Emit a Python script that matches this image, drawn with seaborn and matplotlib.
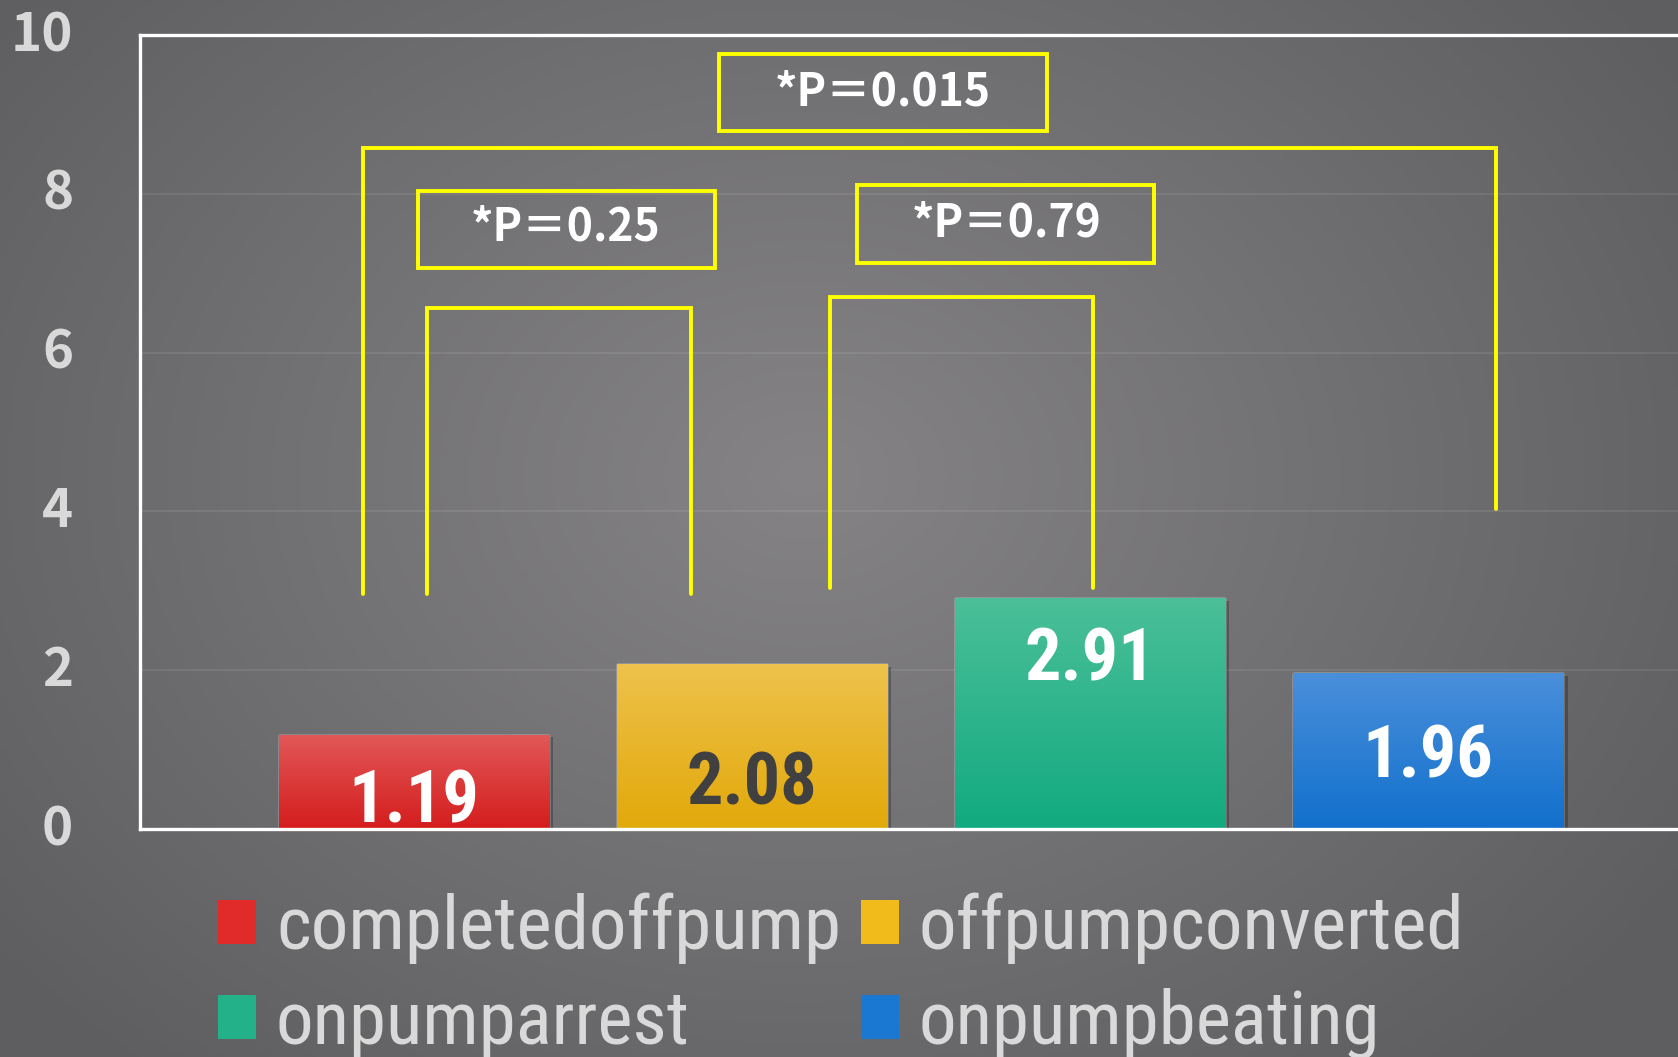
import numpy as np
import pandas as pd
import matplotlib
matplotlib.use("Agg")
import matplotlib.pyplot as plt
import matplotlib.patheffects as pe
import seaborn as sns
from matplotlib.patches import Rectangle
from matplotlib import font_manager as fm
from matplotlib.colors import to_rgb
from matplotlib.transforms import ScaledTranslation

# ---------------- data ----------------
categories = ["completedoffpump", "offpumpconverted", "onpumparrest", "onpumpbeating"]
values = [1.19, 2.08, 2.91, 1.96]
value_labels = ["1.19", "2.08", "2.91", "1.96"]
yticks = [0, 2, 4, 6, 8, 10]
p_labels = ["*P＝0.25", "*P＝0.79", "*P＝0.015"]

# ---------------- styling ----------------
mid_colors = ["#e12a2a", "#f2bb1c", "#22b189", "#1b78d2"]
top_colors = ["#e25858", "#eec24c", "#4bbf98", "#4a8fdb"]
bot_colors = ["#d41d1d", "#e2a90a", "#12aa80", "#1170cc"]
label_colors = ["white", "#404040", "white", "white"]
label_y = [0.33, 0.56, 2.12, 0.89]

sns.set_theme(style="white")
jp = "Noto Sans CJK JP"
plt.rcParams["font.family"] = [jp, "DejaVu Sans"]

# find a condensed sans font if one is installed
cands = [f for f in fm.fontManager.ttflist
         if ("Narrow" in f.name or "Condensed" in f.name or "ondensed" in f.fname or
             str(f.stretch) in ("condensed", "semi-condensed", "extra-condensed"))
         and "Serif" not in f.name and "Serif" not in f.fname and "Mono" not in f.name
         and "Oblique" not in f.fname and "Italic" not in f.fname]
def pick(bold):
    best = None
    for f in cands:
        w = f.weight if isinstance(f.weight, int) else (700 if "bold" in str(f.weight).lower() else 400)
        if (w >= 600) == bold and (w in (400, 700) or best is None):
            best = f
    return best
fb = pick(True)
fr = pick(False)
cond_bold = fm.FontProperties(fname=fb.fname) if fb else fm.FontProperties(family="DejaVu Sans", weight="bold", stretch="condensed")
cond_reg = fm.FontProperties(fname=fr.fname) if fr else fm.FontProperties(family="DejaVu Sans", stretch="condensed")

fig = plt.figure(figsize=(16.78, 10.57), dpi=100)
fig.patch.set_facecolor("#69696b")

# radial background gradient
bg = fig.add_axes([0, 0, 1, 1], zorder=-10)
bg.axis("off")
H, W = 300, 480
yy, xx = np.mgrid[0:H, 0:W]
X = xx / (W - 1)
Y = yy / (H - 1)
r = np.sqrt(((X - 0.48) / 0.62) ** 2 + ((Y - 0.45) / 0.75) ** 2)
r = np.clip(r, 0, 1)
light = np.array(to_rgb("#858386"))
dark = np.array(to_rgb("#5e5e61"))
img = light[None, None, :] * (1 - r[..., None]) + dark[None, None, :] * r[..., None]
bg.imshow(img, extent=[0, 1, 0, 1], aspect="auto", origin="upper")
bg.set_xlim(0, 1)
bg.set_ylim(0, 1)

ax = fig.add_axes([140 / 1678, 1 - 829 / 1057, (1702 - 140) / 1678, (829 - 35) / 1057])
ax.set_facecolor("none")

df = pd.DataFrame({"group": categories, "value": values})
sns.barplot(data=df, x="group", y="value", hue="group", palette=mid_colors,
            width=0.8, legend=False, ax=ax, saturation=1, zorder=3)

# bar gradients + soft shadow
for i, p in enumerate(ax.patches[:4]):
    p.set_path_effects([pe.SimplePatchShadow(offset=(3, -2), shadow_rgbFace="black", alpha=0.25),
                        pe.Normal()])
    x0, w, h = p.get_x(), p.get_width(), p.get_height()
    t = np.linspace(0, 1, 100)[:, None]
    c = np.array(to_rgb(top_colors[i])) * (1 - t[..., None]) + np.array(to_rgb(bot_colors[i])) * t[..., None]
    c = np.repeat(c, 2, axis=1)
    im = ax.imshow(c, extent=[x0, x0 + w, 0, h], aspect="auto", origin="upper", zorder=4)
    im.set_clip_path(p)
ax.set_xlim(-0.81, 3.81)
ax.set_ylim(0, 10)

# value labels
for i, lab in enumerate(value_labels):
    fp = cond_bold.copy()
    fp.set_size(52)
    ax.text(i, label_y[i], lab, ha="center", va="center", color=label_colors[i],
            fontproperties=fp, zorder=6)

# axes styling
for s in ["top", "left", "bottom"]:
    ax.spines[s].set_color("white")
    ax.spines[s].set_linewidth(2.4)
    ax.spines[s].set_zorder(7)
ax.spines["right"].set_visible(False)
ax.set_yticks(yticks)
ax.set_yticklabels([str(v) for v in yticks], fontsize=38, fontweight="bold",
                   color="#d9d9d9", family=[jp, "DejaVu Sans"])
ax.tick_params(axis="y", length=0, pad=48)
off = ScaledTranslation(0, 5 / 100, fig.dpi_scale_trans)
for tl in ax.get_yticklabels():
    tl.set_transform(tl.get_transform() + off)
ax.set_xticks([])
ax.set_xlabel("")
ax.set_ylabel("")
ax.yaxis.grid(True, color="white", alpha=0.09, lw=1.3)
ax.set_axisbelow(True)

# significance brackets
yel = "#ffff00"
lw = 2.8
brackets = [
    ([-0.149, -0.149, 3.20, 3.20], [2.96, 8.58, 8.58, 4.03]),
    ([0.038, 0.038, 0.82, 0.82], [2.96, 6.56, 6.56, 2.96]),
    ([1.232, 1.232, 2.01, 2.01], [3.03, 6.70, 6.70, 3.03]),
]
for bx, by in brackets:
    ax.plot(bx, by, color=yel, lw=lw, zorder=5, solid_joinstyle="miter")

boxes = [(0.013, 7.06, 0.877, 0.97), (1.311, 7.13, 0.879, 0.98), (0.903, 8.79, 0.969, 0.97)]
text_pos = [(0.45, 7.57), (1.752, 7.63), (1.387, 9.27)]
for (bx, by, bw, bh), (tx, ty), lab in zip(boxes, text_pos, p_labels):
    ax.add_patch(Rectangle((bx, by), bw, bh, fill=False, edgecolor=yel, lw=lw, zorder=5))
    ax.text(tx, ty, lab, ha="center", va="center", color="white", fontsize=32,
            fontweight="bold", family=[jp, "DejaVu Sans"], zorder=6)

# legend
handles = [Rectangle((0, 0), 1, 1, facecolor=mid_colors[i], edgecolor="none") for i in range(4)]
order = [0, 2, 1, 3]
lp = cond_reg.copy()
lp.set_size(54)
leg = fig.legend([handles[i] for i in order], [categories[i] for i in order], ncol=2,
                 loc="upper left", bbox_to_anchor=(0.130, 0.156), frameon=False,
                 prop=lp, labelcolor="#d9d9d9", handlelength=0.5, handleheight=0.52,
                 handletextpad=0.27, columnspacing=0.27, labelspacing=0.32,
                 borderpad=0, borderaxespad=0)

fig.savefig("out.png", dpi=100, facecolor=fig.get_facecolor())
